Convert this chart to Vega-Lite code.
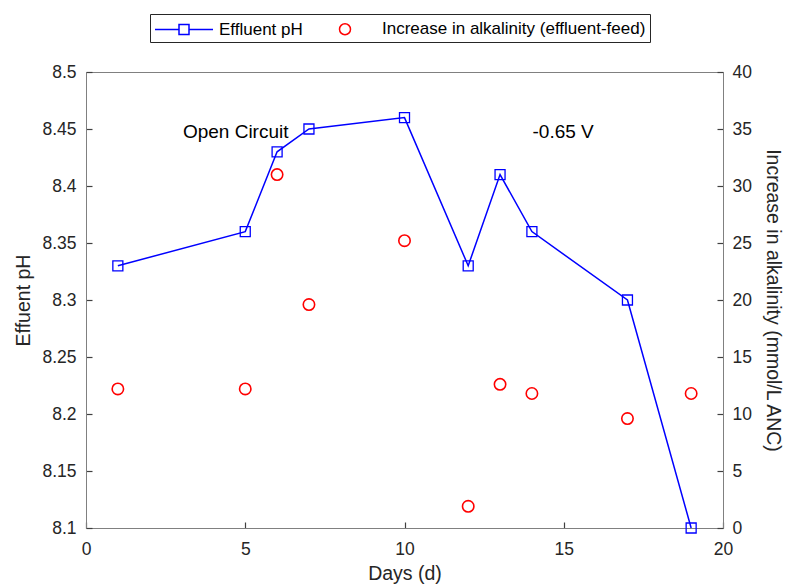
{
  "$schema": "https://vega.github.io/schema/vega-lite/v6.json",
  "width": 637,
  "height": 456,
  "autosize": {"type": "none"},
  "padding": {"left": 86, "top": 72, "right": 62, "bottom": 59},
  "background": "white",
  "config": {
    "font": "Liberation Sans",
    "view": {"stroke": "#808080", "strokeWidth": 1},
    "axis": {"grid": false, "zindex": 1, "domainColor": "#808080", "tickColor": "#404040", "tickWidth": 1.2, "labelColor": "#262626", "titleColor": "#262626", "labelFontSize": 17.5, "titleFontSize": 19.5, "titleFontWeight": "normal", "tickSize": -6, "labelFlush": false, "labelFont": "Liberation Sans", "titleFont": "Liberation Sans"}
  },
  "datasets": {
    "ph": [
      {"day": 1, "ph": 8.33, "series": "Effluent pH"},
      {"day": 5, "ph": 8.36, "series": "Effluent pH"},
      {"day": 6, "ph": 8.43, "series": "Effluent pH"},
      {"day": 7, "ph": 8.45, "series": "Effluent pH"},
      {"day": 10, "ph": 8.46, "series": "Effluent pH"},
      {"day": 12, "ph": 8.33, "series": "Effluent pH"},
      {"day": 13, "ph": 8.41, "series": "Effluent pH"},
      {"day": 14, "ph": 8.36, "series": "Effluent pH"},
      {"day": 17, "ph": 8.30, "series": "Effluent pH"},
      {"day": 19, "ph": 8.10, "series": "Effluent pH"}
    ],
    "alk": [
      {"day": 1, "alk": 12.2, "series": "Increase in alkalinity (effluent-feed)"},
      {"day": 5, "alk": 12.2, "series": "Increase in alkalinity (effluent-feed)"},
      {"day": 6, "alk": 31.0, "series": "Increase in alkalinity (effluent-feed)"},
      {"day": 7, "alk": 19.6, "series": "Increase in alkalinity (effluent-feed)"},
      {"day": 10, "alk": 25.2, "series": "Increase in alkalinity (effluent-feed)"},
      {"day": 12, "alk": 1.9, "series": "Increase in alkalinity (effluent-feed)"},
      {"day": 13, "alk": 12.6, "series": "Increase in alkalinity (effluent-feed)"},
      {"day": 14, "alk": 11.8, "series": "Increase in alkalinity (effluent-feed)"},
      {"day": 17, "alk": 9.6, "series": "Increase in alkalinity (effluent-feed)"},
      {"day": 19, "alk": 11.8, "series": "Increase in alkalinity (effluent-feed)"}
    ],
    "labels": [
      {"day": 4.7, "ph": 8.447, "text": "Open Circuit"},
      {"day": 14.98, "ph": 8.447, "text": "-0.65 V"}
    ]
  },
  "layer": [
    {
      "layer": [
        {
          "data": {"name": "ph"},
          "mark": {"type": "line", "color": "#0000ff", "strokeWidth": 1.5, "point": {"shape": "square", "filled": false, "size": 100, "stroke": "#0000ff", "strokeWidth": 1.3, "opacity": 1}},
          "encoding": {
            "x": {"field": "day", "type": "quantitative", "scale": {"domain": [0, 20], "nice": false}, "axis": {"values": [0, 5, 10, 15, 20], "title": "Days (d)", "labelPadding": 18, "titlePadding": 7}},
            "y": {"field": "ph", "type": "quantitative", "scale": {"domain": [8.1, 8.5], "nice": false, "zero": false}, "axis": {"values": [8.1, 8.15, 8.2, 8.25, 8.3, 8.35, 8.4, 8.45, 8.5], "format": ".2~f", "title": "Effuent pH", "labelPadding": 16, "titlePadding": 8}},
            "color": {"field": "series", "type": "nominal", "scale": {"domain": ["Effluent pH", "Increase in alkalinity (effluent-feed)"], "range": ["#0000ff", "#ff0000"]},
              "legend": {"title": null, "orient": "none", "direction": "horizontal", "legendX": 64, "legendY": -58, "labelFontSize": 17, "labelColor": "#000000", "labelFont": "Liberation Sans", "labelLimit": 0, "symbolSize": 400, "labelOffset": 43, "columnPadding": 14, "padding": 4, "strokeColor": "#262626", "fillColor": "white",
                "encode": {"symbols": {"update": {"shape": {"signal": "datum.value === 'Effluent pH' ? 'M-1,0H1.4M2.4,0H4.8M1.4,-0.5H2.4V0.5H1.4Z' : 'M1.15,0A0.55,0.55,0,1,1,2.25,0A0.55,0.55,0,1,1,1.15,0Z'"}, "fill": {"value": "transparent"}, "stroke": {"signal": "datum.value === 'Effluent pH' ? '#0000ff' : '#ff0000'"}, "strokeWidth": {"value": 1.5}, "opacity": {"value": 1}}}}}
            }
          }
        },
        {
          "data": {"name": "labels"},
          "mark": {"type": "text", "fontSize": 19, "font": "Liberation Sans", "color": "#000000"},
          "encoding": {
            "x": {"field": "day", "type": "quantitative"},
            "y": {"field": "ph", "type": "quantitative"},
            "text": {"field": "text"}
          }
        },
        {
          "mark": {"type": "rule", "color": "#000000", "strokeWidth": 1},
          "encoding": {"x": {"datum": 10}}
        }
      ]
    },
    {
      "data": {"name": "alk"},
      "mark": {"type": "point", "shape": "circle", "filled": false, "size": 130, "strokeWidth": 1.6, "opacity": 1},
      "encoding": {
        "x": {"field": "day", "type": "quantitative"},
        "y": {"field": "alk", "type": "quantitative", "scale": {"domain": [0, 40], "nice": false}, "axis": {"orient": "right", "values": [0, 5, 10, 15, 20, 25, 30, 35, 40], "title": "Increase in alkalinity (mmol/L ANC)", "labelPadding": 15, "titlePadding": 11}},
        "color": {"field": "series", "type": "nominal"}
      }
    }
  ],
  "resolve": {"scale": {"y": "independent"}}
}
